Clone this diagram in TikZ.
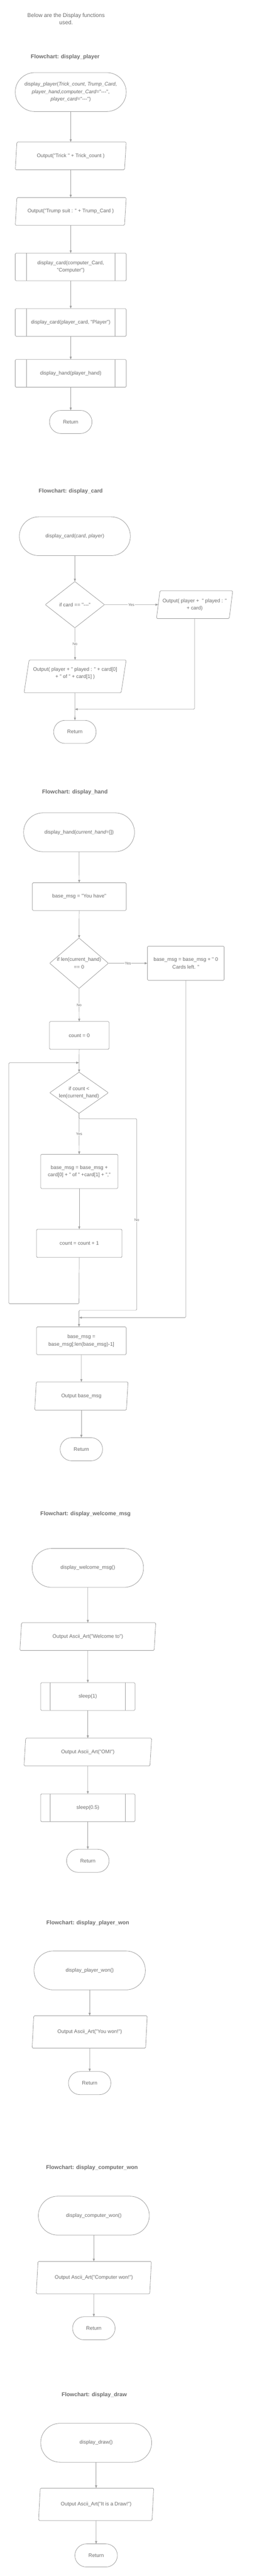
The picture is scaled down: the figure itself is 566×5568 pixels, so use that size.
\documentclass[tikz,border=0pt]{standalone}
\usepackage{fontspec}
\setmainfont{Liberation Sans}[Ligatures=TeXOff]
\usetikzlibrary{shapes.geometric}
\usetikzlibrary{positioning, arrows.meta}

\definecolor{linegray}{RGB}{158,158,158}
\definecolor{textgray}{RGB}{108,108,108}

\tikzset{
    base/.style={draw=linegray, line width=0.9pt, text=textgray, font=\fontsize{11}{16}\selectfont,
        align=center, inner sep=2pt, outer sep=0pt},
    terminal/.style={base, rectangle, rounded corners=41.9pt, minimum width=240pt, minimum height=84pt},
    retbox/.style={base, rectangle, rounded corners=25pt, minimum width=92pt, minimum height=50pt},
    procbox/.style={base, rectangle, rounded corners=2pt},
    iobox/.style={base, trapezium, trapezium left angle=76, trapezium right angle=104,
        trapezium stretches body=true, rounded corners=2pt},
    subbox/.style={base, rectangle, rounded corners=2pt, minimum height=60pt,
        path picture={\draw[linegray, line width=1pt]
            ([xshift=#1]path picture bounding box.north west) -- ([xshift=#1]path picture bounding box.south west)
            ([xshift=-#1]path picture bounding box.north east) -- ([xshift=-#1]path picture bounding box.south east);}},
    subbox/.default=22pt,
    decision/.style={base, diamond, inner xsep=-8pt, inner ysep=-3pt, rounded corners=1pt},
    heading/.style={text=textgray, font=\fontsize{12}{16}\selectfont\bfseries},
    note/.style={text=textgray, font=\fontsize{12}{16}\selectfont, align=center},
    arr/.style={draw=linegray, line width=0.8pt, -{Triangle[length=6pt,width=4.5pt]}},
    lbl/.style={fill=white, text=textgray, font=\fontsize{8}{9}\selectfont, inner sep=1pt}
}

\begin{document}
\begin{tikzpicture}[x=1pt, y=-1pt]
    \useasboundingbox (0,0) rectangle (566,5568);

    \node[note] (intro) at (143,41) {Below are the Display functions\\used.};

    % display_player
    \node[heading] (p_title) at (141,123) {Flowchart: display\_player};
    \node[terminal] (p_start) at (153,199) {display\_player(\textit{Trick\_count}, \textit{Trump\_Card},\\
        \textit{player\_hand},\textit{computer\_Card}="---",\\ \textit{player\_card}="---")};
    \node[iobox, minimum width=240pt, minimum height=60pt] (p_out1) at (153,337) {Output("Trick " + Trick\_count )};
    \node[iobox, minimum width=240pt, minimum height=60pt] (p_out2) at (153,457) {Output("Trump suit : " + Trump\_Card )};
    \node[subbox=24pt, minimum width=240pt] (p_sub1) at (153,577) {display\_card(computer\_Card,\\"Computer")};
    \node[subbox=24pt, minimum width=240pt] (p_sub2) at (153,697) {display\_card(player\_card, "Player")};
    \node[subbox=24pt, minimum width=240pt] (p_sub3) at (153,807) {display\_hand(player\_hand)};
    \node[retbox] (p_ret) at (153,912) {Return};
    \foreach \a/\b in {p_start/p_out1, p_out1/p_out2, p_out2/p_sub1, p_sub1/p_sub2, p_sub2/p_sub3, p_sub3/p_ret}
        \draw[arr] (\a) -- (\b);

    % display_card
    \node[heading] (c_title) at (153,1062) {Flowchart: display\_card};
    \node[terminal] (c_start) at (162,1159) {display\_card(\textit{card}, \textit{player})};
    \node[decision, minimum width=128pt, minimum height=100pt, aspect=1.28] (c_if) at (162,1307) {if card == "---"};
    \node[iobox, minimum width=165pt, minimum height=60pt] (c_out1) at (421,1307) {Output( player + \ " played : "\\+ card)};
    \node[iobox, minimum width=221pt, minimum height=71pt] (c_out2) at (162.5,1462)
        {Output( player + " played : " + card[0]\\+ " of " + card[1] )\\ ~};
    \node[retbox] (c_ret) at (162,1582) {Return};
    \coordinate (c_join) at (162,1533);
    \draw[arr] (c_start) -- (c_if);
    \draw[arr] (c_if) -- node[lbl] {Yes} (c_out1);
    \draw[arr] (c_if) -- node[lbl] {No} (c_out2);
    \draw[arr] (c_out2) -- (c_ret);
    \draw[arr, rounded corners=2pt] (c_out1.south) |- (c_join);

    % display_hand
    \node[heading] (h_title) at (162,1712) {Flowchart: display\_hand};
    \node[terminal] (h_start) at (171,1799) {display\_hand(\textit{current\_hand}=[])};
    \node[procbox, minimum width=203pt, minimum height=60pt] (h_base) at (171.5,1938) {base\_msg = "You have"};
    \node[decision, minimum width=127pt, minimum height=109pt, aspect=1.17] (h_if1) at (171,2082) {if len(current\_hand)\\== 0};
    \node[procbox, minimum width=166pt, minimum height=74pt] (h_zero) at (402,2082) {base\_msg = base\_msg + " 0\\Cards left. "};
    \node[procbox, minimum width=129pt, minimum height=60pt] (h_count) at (171.5,2238) {count = 0};
    \node[decision, minimum width=127pt, minimum height=89pt, aspect=1.43] (h_if2) at (171,2362) {if count <\\len(current\_hand)};
    \node[procbox, minimum width=167pt, minimum height=74pt] (h_add) at (171.5,2532)
        {base\_msg = base\_msg +\\card[0] + " of " +card[1] + ","};
    \node[procbox, minimum width=185pt, minimum height=61pt] (h_inc) at (171.5,2687.5) {count = count + 1};
    \node[procbox, minimum width=194pt, minimum height=60pt] (h_trim) at (176,2898) {base\_msg =\\base\_msg[:len(base\_msg)-1]};
    \node[iobox, minimum width=202pt, minimum height=61pt] (h_out) at (176,3017.5) {Output base\_msg};
    \node[retbox] (h_ret) at (176,3132.5) {Return};
    \coordinate (h_loopin) at (171,2297);
    \coordinate (h_loopa) at (171,2818);
    \coordinate (h_loopb) at (19,2818);
    \coordinate (h_loopc) at (19,2297);
    \coordinate (h_split) at (171,2418);
    \coordinate (h_noright) at (296,2418);
    \coordinate (h_nobot) at (296,2832);
    \coordinate (h_noleft) at (171,2832);
    \coordinate (h_zjoin) at (171,2848);
    \draw[arr] (h_start) -- (h_base);
    \draw[arr] (h_base) -- (h_if1);
    \draw[arr] (h_if1) -- node[lbl] {Yes} (h_zero);
    \draw[arr] (h_if1) -- node[lbl] {No} (h_count);
    \draw[arr] (h_count) -- (h_if2);
    \draw[arr] (h_if2) -- node[lbl] {Yes} (h_add);
    \draw[arr] (h_add) -- (h_inc);
    \draw[arr, rounded corners=2pt] (h_inc.south) -- (h_loopa) -- (h_loopb) -- (h_loopc) -- (h_loopin);
    \draw[arr, rounded corners=2pt] (h_if2.south) -- (h_split) -- (h_noright) -- node[lbl, pos=0.53] {No} (h_nobot)
        -- (h_noleft) -- (h_trim.north -| h_noleft);
    \draw[arr, rounded corners=2pt] (h_zero.south) |- (h_zjoin);
    \draw[arr] (h_trim) -- (h_out);
    \draw[arr] (h_out) -- (h_ret);

    % display_welcome_msg
    \node[heading] (w_title) at (185,3272) {Flowchart: display\_welcome\_msg};
    \node[terminal, minimum width=241pt] (w_start) at (190,3389) {display\_welcome\_msg()};
    \node[iobox, minimum width=294pt, minimum height=60pt] (w_out1) at (190,3537.5) {Output Ascii\_Art("Welcome to")};
    \node[subbox=21pt, minimum width=204pt] (w_sleep1) at (190,3667) {sleep(1)};
    \node[iobox, minimum width=276pt, minimum height=60pt] (w_out2) at (190,3787) {Output Ascii\_Art("OMI")};
    \node[subbox=21pt, minimum width=204pt] (w_sleep2) at (190,3907.5) {sleep(0.5)};
    \node[retbox] (w_ret) at (190,4022) {Return};
    \foreach \a/\b in {w_start/w_out1, w_out1/w_sleep1, w_sleep1/w_out2, w_out2/w_sleep2, w_sleep2/w_ret}
        \draw[arr] (\a) -- (\b);

    % display_player_won
    \node[heading] (pw_title) at (190,4157) {Flowchart: display\_player\_won};
    \node[terminal, minimum width=241pt] (pw_start) at (194,4259) {display\_player\_won()};
    \node[iobox, minimum width=249pt, minimum height=70pt] (pw_out) at (194,4392) {Output Ascii\_Art("You won!")};
    \node[retbox] (pw_ret) at (194,4502.5) {Return};
    \draw[arr] (pw_start) -- (pw_out);
    \draw[arr] (pw_out) -- (pw_ret);

    % display_computer_won
    \node[heading] (cw_title) at (199,4686) {Flowchart: display\_computer\_won};
    \node[terminal] (cw_start) at (203,4789) {display\_computer\_won()};
    \node[iobox, minimum width=249pt, minimum height=70pt] (cw_out) at (203,4923) {Output Ascii\_Art("Computer won!")};
    \node[retbox] (cw_ret) at (203,5032.5) {Return};
    \draw[arr] (cw_start) -- (cw_out);
    \draw[arr] (cw_out) -- (cw_ret);

    % display_draw
    \node[heading] (dr_title) at (204,5177) {Flowchart: display\_draw};
    \node[terminal] (dr_start) at (208,5280) {display\_draw()};
    \node[iobox, minimum width=249pt, minimum height=70pt] (dr_out) at (208,5413) {Output Ascii\_Art("It is a Draw!")};
    \node[retbox] (dr_ret) at (208,5523.5) {Return};
    \draw[arr] (dr_start) -- (dr_out);
    \draw[arr] (dr_out) -- (dr_ret);
\end{tikzpicture}
\end{document}
